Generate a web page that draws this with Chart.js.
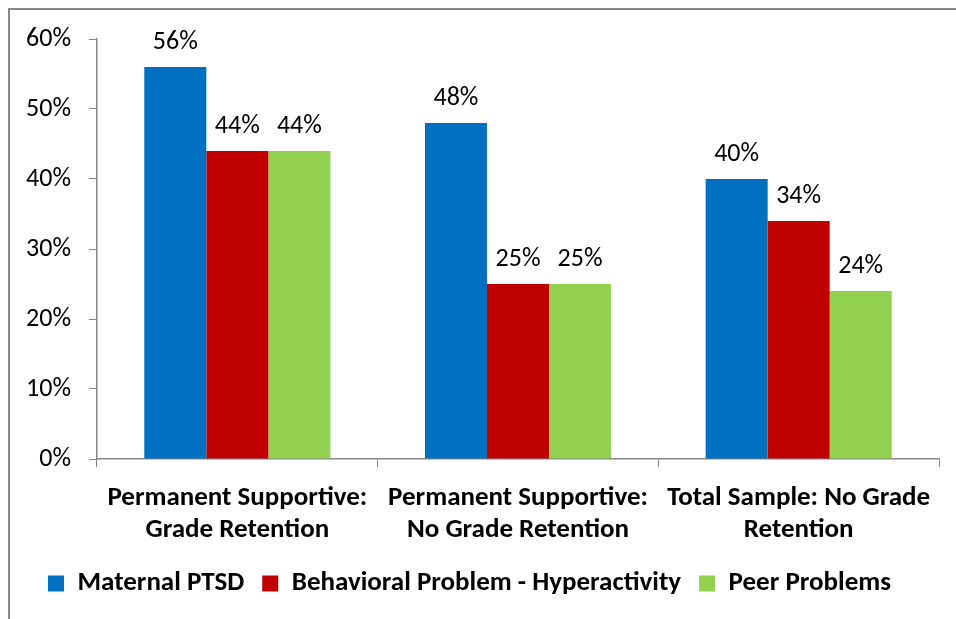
<!DOCTYPE html>
<html>
<head>
<meta charset="utf-8">
<script src="https://cdn.jsdelivr.net/npm/chart.js@4"></script>
<style>
  html, body { margin: 0; padding: 0; background: #fff; }
  #wrap { position: relative; width: 956px; height: 619px; overflow: hidden; }
  #frame { position: absolute; left: 8px; top: 8px; width: 1000px; height: 700px;
           border-left: 2px solid #888; border-top: 2px solid #888; pointer-events: none; }
</style>
</head>
<body>
<div id="wrap">
  <canvas id="myChart" width="956" height="619"></canvas>
  <div id="frame"></div>
</div>
<script>
const categories = [
  ["Permanent Supportive:", "Grade Retention"],
  ["Permanent Supportive:", "No Grade Retention"],
  ["Total Sample: No Grade", "Retention"]
];
const seriesNames = ["Maternal PTSD", "Behavioral Problem - Hyperactivity", "Peer Problems"];
const maternalPtsd = [0.56, 0.48, 0.40];
const hyperactivity = [0.44, 0.25, 0.34];
const peerProblems = [0.44, 0.25, 0.24];
const yTicks = [0, 0.1, 0.2, 0.3, 0.4, 0.5, 0.6];

const fontFamily = "Carlito, Lato, 'Open Sans', sans-serif";
const axisColor = "#868686";

// labels above each bar
const barLabels = {
  id: "barLabels",
  afterDatasetsDraw(chart) {
    const ctx = chart.ctx;
    ctx.save();
    ctx.font = "26px " + fontFamily;
    ctx.fillStyle = "#000";
    ctx.textAlign = "center";
    ctx.textBaseline = "middle";
    chart.data.datasets.forEach((ds, i) => {
      chart.getDatasetMeta(i).data.forEach((bar, j) => {
        ctx.fillText(Math.round(ds.data[j] * 100) + "%", bar.x, bar.y - 25);
      });
    });
    ctx.restore();
  }
};

var ctx = document.getElementById("myChart").getContext("2d");
var myChart = new Chart(ctx, {
  type: "bar",
  data: {
    labels: categories,
    datasets: [
      { label: seriesNames[0], data: maternalPtsd, backgroundColor: "#0070C0" },
      { label: seriesNames[1], data: hyperactivity, backgroundColor: "#C00000" },
      { label: seriesNames[2], data: peerProblems, backgroundColor: "#92D050" }
    ]
  },
  options: {
    responsive: false,
    animation: false,
    layout: { padding: { top: 39, right: 17, bottom: 12, left: 0 } },
    datasets: {
      bar: { categoryPercentage: 0.663, barPercentage: 1.0, borderWidth: 0 }
    },
    scales: {
      x: {
        afterFit(scale) { scale.height = 93; },
        grid: { drawOnChartArea: false, tickLength: 8, color: axisColor, offset: true },
        border: { color: axisColor, width: 1.5 },
        ticks: {
          color: "#000",
          font: { family: fontFamily, size: 27, weight: "bold", lineHeight: 1.18 },
          maxRotation: 0,
          autoSkip: false,
          padding: 15
        }
      },
      y: {
        min: 0,
        max: 0.6,
        afterFit(scale) { scale.width = 97; },
        afterBuildTicks(scale) { scale.ticks = yTicks.map(v => ({ value: v })); },
        grid: { drawOnChartArea: false, tickLength: 8, color: axisColor },
        border: { color: axisColor, width: 1.5 },
        ticks: {
          color: "#000",
          font: { family: fontFamily, size: 26 },
          padding: 18,
          callback: v => Math.round(v * 100) + "%"
        }
      }
    },
    plugins: {
      legend: {
        position: "bottom",
        labels: {
          boxWidth: 16,
          boxHeight: 16,
          padding: 18,
          color: "#000",
          font: { family: fontFamily, size: 27, weight: "bold" }
        }
      },
      tooltip: { enabled: false }
    }
  },
  plugins: [barLabels]
});
</script>
</body>
</html>
